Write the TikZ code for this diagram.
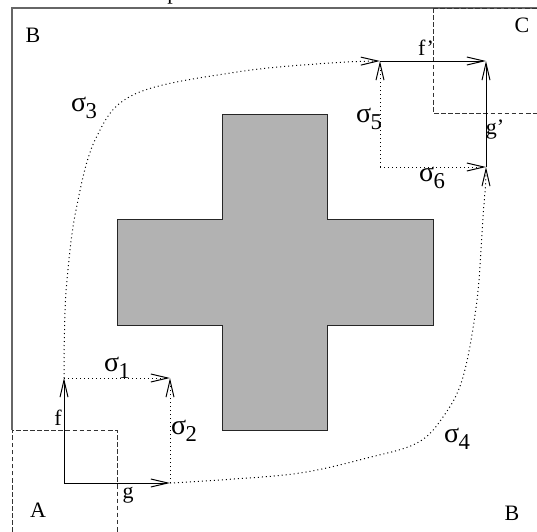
\documentclass[tikz,border=0pt]{standalone}
\usepackage{fontspec}
\setmainfont{Liberation Serif}
\usetikzlibrary{arrows.meta}
\newcommand{\sgm}[1]{{\fontsize{21pt}{21pt}\selectfont σ}\kern-0.02em\raisebox{-0.3em}{\fontsize{17pt}{17pt}\selectfont #1}}
\tikzset{
  >={Straight Barb[length=12.75pt,width=6pt,line width=0.75pt]},
  solidl/.style={line width=0.75pt,black},
  dotl/.style={line width=0.75pt,black,dash pattern=on 0.75pt off 2.25pt},
  framel/.style={line width=1.1pt,black!60},
  regl/.style={line width=0.75pt,black!80,dash pattern=on 3.5pt off 1.8pt},
  lbl/.style={inner sep=0pt,font=\fontsize{16.5pt}{18pt}\selectfont},
  crossf/.style={fill=black!30,draw=black!85,line width=0.75pt}
}
\begin{document}
\begin{tikzpicture}[x=0.75pt,y=-0.75pt]
\useasboundingbox (0,0) rectangle (537,532);
\fill[white] (0,0) rectangle (537,532);
% frame
\draw[framel] (12,430) -- (12,8) -- (537,8);
% regions
\draw[regl] (12,532) -- (12,430) -- (117,430) -- (117,532);
\draw[regl] (433,8) -- (537,8);
\draw[regl] (433,8) -- (433,113) -- (537,113);
% obstacle
\draw[crossf] (222,114) -- (327,114) -- (327,219) -- (433,219) -- (433,325)
  -- (327,325) -- (327,430) -- (222,430) -- (222,325) -- (117,325)
  -- (117,219) -- (222,219) -- cycle;
% coordinates
\coordinate (O1) at (64,483);
\coordinate (F1) at (64,378);
\coordinate (G1) at (170,483);
\coordinate (S1) at (170,378);
\coordinate (F2s) at (380,61);
\coordinate (F2e) at (486,61);
\coordinate (G2s) at (486,167);
\coordinate (S5) at (380,167);
% paths
\draw[solidl,->] (O1) -- (F1);
\draw[solidl,->] (O1) -- (G1);
\draw[dotl,->] (F1) -- (S1);
\draw[dotl,->] (G1) -- (S1);
\draw[solidl,->] (F2s) -- (F2e);
\draw[solidl,->] (G2s) -- (F2e);
\draw[dotl,->] (S5) -- (F2s);
\draw[dotl,->] (S5) -- (G2s);
\draw[dotl,->] plot[smooth,tension=0.6] coordinates {(F1) (64.5,330) (67,280) (76,210) (96,138) (135,94) (237,72) (330,63) (380,61)};
\draw[dotl,->] plot[smooth,tension=0.6] coordinates {(G1) (220,480) (300,473) (367,458) (417,443) (443,417) (463,377) (477,300) (483,217) (485.5,185) (G2s)};
% labels
\node[lbl] (lB1) at (33,35) {B};
\node[lbl] (lC) at (522,25) {C};
\node[lbl] (lA) at (38,510) {A};
\node[lbl] (lB2) at (512,513) {B};
\node[lbl] (lf) at (58,418) {f};
\node[lbl] (lg) at (128,495) {g};
\node[lbl] (lfp) at (426,48) {f’};
\node[lbl] (lgp) at (495,130) {g’};
\node[lbl] (ls1) at (117,368) {\sgm{1}};
\node[lbl] (ls2) at (184,431) {\sgm{2}};
\node[lbl] (ls3) at (84,108) {\sgm{3}};
\node[lbl] (ls4) at (457,439) {\sgm{4}};
\node[lbl] (ls5) at (369,119) {\sgm{5}};
\node[lbl] (ls6) at (432,178) {\sgm{6}};
\node[lbl,anchor=base] (lp) at (173,-0.5) {p};
\end{tikzpicture}
\end{document}
